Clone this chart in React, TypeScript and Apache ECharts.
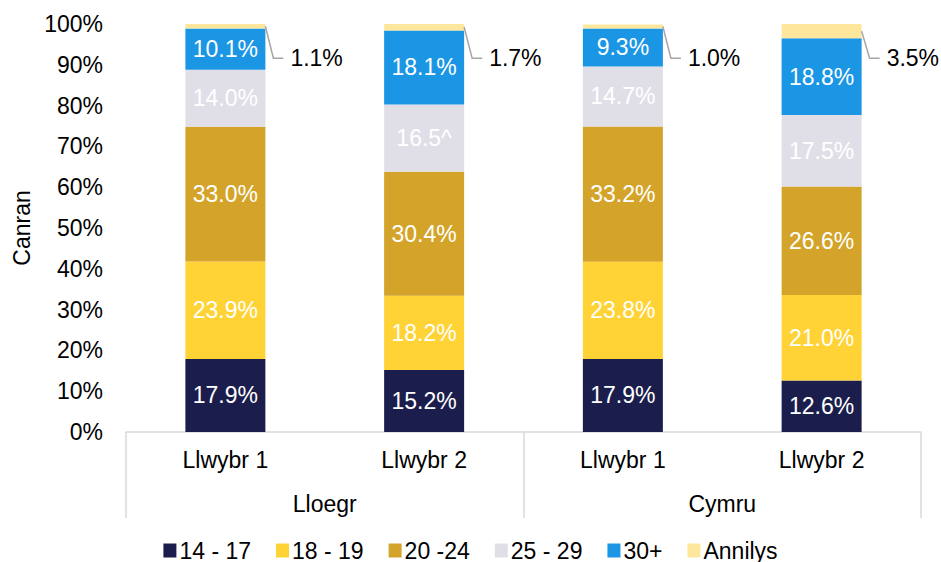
import React, { useEffect, useRef } from "react";
import * as echarts from "echarts";

const GROUPS = ["Lloegr", "Cymru"];
const ROUTES = ["Llwybr 1", "Llwybr 2", "Llwybr 1", "Llwybr 2"];
const SERIES_NAMES = ["14 - 17", "18 - 19", "20 -24", "25 - 29", "30+", "Annilys"];
const AGE_14_17 = [17.9, 15.2, 17.9, 12.6];
const AGE_18_19 = [23.9, 18.2, 23.8, 21.0];
const AGE_20_24 = [33.0, 30.4, 33.2, 26.6];
const AGE_25_29 = [14.0, 16.5, 14.7, 17.5];
const AGE_30_PLUS = [10.1, 18.1, 9.3, 18.8];
const ANNILYS = [1.1, 1.7, 1.0, 3.5];
const LABEL_SUFFIX_25_29 = ["%", "^", "%", "%"];
const Y_TICKS = [0, 10, 20, 30, 40, 50, 60, 70, 80, 90, 100];

const COLORS = ["#1B1E4D", "#FFD335", "#D4A42A", "#E0DFE8", "#1A96E5", "#FEE79D"];
const FONT = "Liberation Sans, Arial, sans-serif";
const FS = 23;
const BAR_W = 80;
const LEADER_Y = 91.6;

export default function App() {
  const ref = useRef<HTMLDivElement>(null);
  useEffect(() => {
    if (!ref.current) return;
    const chart = echarts.init(ref.current, null, { renderer: "svg" });
    const allSeries = [AGE_14_17, AGE_18_19, AGE_20_24, AGE_25_29, AGE_30_PLUS, ANNILYS];
    const catKeys = ROUTES.map((r, i) => GROUPS[Math.floor(i / 2)] + "|" + r);
    const barSeries = allSeries.map((vals, si) => ({
      name: SERIES_NAMES[si],
      type: "bar",
      stack: "total",
      barWidth: BAR_W,
      xAxisIndex: 0,
      yAxisIndex: 0,
      data: vals,
      itemStyle: { color: COLORS[si] },
      label: {
        show: si < 5,
        position: "inside",
        color: "#fff",
        fontSize: FS,
        fontFamily: FONT,
        formatter: (p: any) =>
          p.value.toFixed(1) + (si === 3 ? LABEL_SUFFIX_25_29[p.dataIndex] : "%"),
      },
    }));
    const annot = ANNILYS.map((v, i) => [
      i,
      allSeries.reduce((s, arr) => s + arr[i], 0),
      v,
    ]);
    const option: any = {
      animation: false,
      textStyle: { fontFamily: FONT },
      grid: { left: 126, right: 20, top: 24, bottom: 130 },
      legend: {
        data: SERIES_NAMES,
        left: "center",
        top: 534,
        icon: "rect",
        itemWidth: 13,
        itemHeight: 14,
        itemGap: 25,
        textStyle: { fontSize: FS, color: "#000", fontFamily: FONT, padding: [0, 0, 0, -2] },
      },
      xAxis: [
        {
          type: "category",
          data: catKeys,
          position: "bottom",
          axisLine: { show: true, lineStyle: { color: "#D9D9D9", width: 1.5 } },
          axisTick: { show: false },
          axisLabel: {
            formatter: (v: string) => v.split("|")[1],
            fontSize: FS,
            color: "#000",
            margin: 16,
            fontFamily: FONT,
          },
        },
        {
          type: "category",
          data: GROUPS,
          position: "bottom",
          axisLine: { show: false },
          axisTick: { show: true, length: 86, lineStyle: { color: "#D9D9D9", width: 1.5 } },
          axisLabel: { fontSize: FS, color: "#000", margin: 60, fontFamily: FONT },
        },
      ],
      yAxis: {
        type: "value",
        min: 0,
        max: 100,
        interval: 10,
        name: "Canran",
        nameLocation: "middle",
        nameGap: 87,
        nameTextStyle: { fontSize: FS, color: "#000", fontFamily: FONT },
        axisLine: { show: false },
        axisTick: { show: false },
        splitLine: { show: false },
        axisLabel: {
          fontSize: FS,
          color: "#000",
          margin: 23,
          fontFamily: FONT,
          formatter: (v: number) => (Y_TICKS.includes(v) ? v + "%" : ""),
        },
      },
      series: [
        ...barSeries,
        {
          name: "annot",
          type: "custom",
          xAxisIndex: 0,
          yAxisIndex: 0,
          encode: { x: 0, y: 1 },
          data: annot,
          z: 10,
          renderItem: (params: any, api: any) => {
            const idx = api.value(0);
            const top = api.value(1);
            const val = api.value(2);
            const p = api.coord([idx, top - val / 2]);
            const xr = p[0] + BAR_W / 2;
            const ey = api.coord([idx, LEADER_Y])[1];
            return {
              type: "group",
              children: [
                {
                  type: "polyline",
                  shape: { points: [[xr, p[1]], [xr + 8, ey], [xr + 18, ey]] },
                  style: { stroke: "#A6A6A6", lineWidth: 1.5, fill: "none" },
                },
                {
                  type: "text",
                  x: xr + 25,
                  y: ey,
                  style: {
                    text: val.toFixed(1) + "%",
                    fontSize: FS,
                    fontFamily: FONT,
                    fill: "#000",
                    verticalAlign: "middle",
                    align: "left",
                  },
                },
              ],
            };
          },
        },
      ],
    };
    chart.setOption(option);
    return () => chart.dispose();
  }, []);
  return <div ref={ref} style={{ width: 941, height: 562, position: "absolute", left: 0, top: 0 }} />;
}
